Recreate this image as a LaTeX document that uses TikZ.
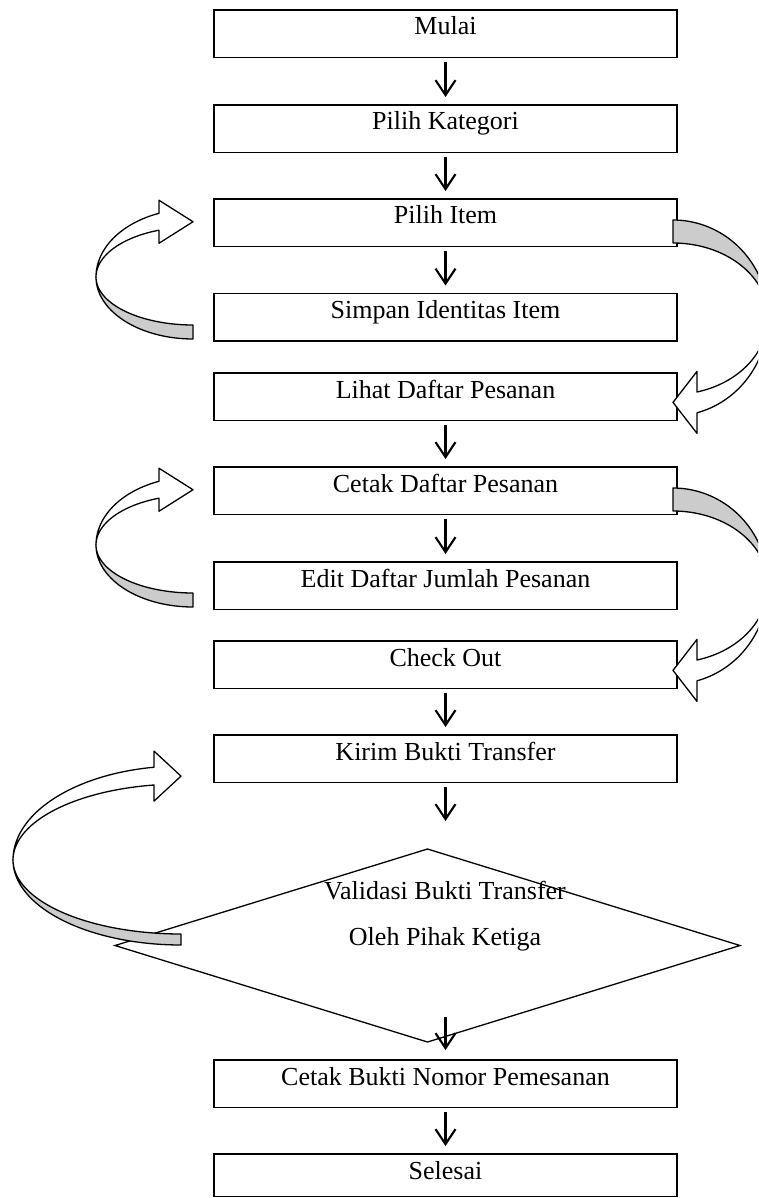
\documentclass[tikz,border=0pt]{standalone}
\usepackage{fontspec}
\setmainfont{Liberation Serif}
\usetikzlibrary{arrows.meta,calc,shapes.geometric}
\newcommand\flowfont{\fontsize{26}{30}\selectfont}
\definecolor{bandgray}{HTML}{CCCCCC}
% left-hand curved arrow: tail at bottom (grey), head at top pointing right
% #1 cx, #2 cy, #3 rx, #4 ry outer tail, #5 ry inner tail, #6 ry outer head, #7 ry inner head, #8 head back x, #9 head half height
\newcommand\curveArrL[9]{%
  \pgfmathsetmacro\hth{360-acos((#8-#1)/#3)}%
  \pgfmathsetmacro\hyo{#2+#6*sin(\hth)}%
  \pgfmathsetmacro\hyi{#2+#7*sin(\hth)}%
  \pgfmathsetmacro\hym{(\hyo+\hyi)/2}%
  \filldraw[cband,fill=bandgray] plot[domain=90:180,samples=40] ({#1+#3*cos(\x)},{#2+#4*sin(\x)})
     -- plot[domain=180:90,samples=40] ({#1+#3*cos(\x)},{#2+#5*sin(\x)}) -- cycle;
  \filldraw[cband,fill=white] plot[domain=180:\hth,samples=40] ({#1+#3*cos(\x)},{#2+#6*sin(\x)})
     -- (#8,\hym-#9) -- (#1,\hym) -- (#8,\hym+#9)
     -- plot[domain=\hth:180,samples=40] ({#1+#3*cos(\x)},{#2+#7*sin(\x)}) -- cycle;
}
% right-hand curved arrow: tail at top (grey), head at bottom pointing left
\newcommand\curveArrR[9]{%
  \pgfmathsetmacro\hth{acos((#8-#1)/#3)}%
  \pgfmathsetmacro\hyo{#2+#6*sin(\hth)}%
  \pgfmathsetmacro\hyi{#2+#7*sin(\hth)}%
  \pgfmathsetmacro\hym{(\hyo+\hyi)/2}%
  \filldraw[cband,fill=bandgray] plot[domain=270:360,samples=40] ({#1+#3*cos(\x)},{#2+#4*sin(\x)})
     -- plot[domain=360:270,samples=40] ({#1+#3*cos(\x)},{#2+#5*sin(\x)}) -- cycle;
  \filldraw[cband,fill=white] plot[domain=0:\hth,samples=40] ({#1+#3*cos(\x)},{#2+#6*sin(\x)})
     -- (#8,\hym+#9) -- (#1,\hym) -- (#8,\hym-#9)
     -- plot[domain=\hth:0,samples=40] ({#1+#3*cos(\x)},{#2+#7*sin(\x)}) -- cycle;
}
\begin{document}
\begin{tikzpicture}[x=1pt,y=-1pt,
  box/.style={draw, line width=1.8pt, minimum width=463pt, inner xsep=0pt, inner ysep=0pt,
              outer sep=0pt, text height=25pt, text depth=22.5pt, anchor=north, font=\flowfont},
  lbl/.style={inner sep=0pt, anchor=base, font=\flowfont},
  arr/.style={line width=2.1pt, -{Straight Barb[length=15pt,width=20pt]}, shorten <=4.5pt, shorten >=8pt},
  cband/.style={line width=1.3pt, line join=round},
]
\useasboundingbox (0,0) rectangle (758,1198);
\clip (0,0) rectangle (758,1198);

\node[box] (n1) at (445.5,10) {Mulai};
\node[box] (n2) at (445.5,105) {Pilih Kategori};
\node[box] (n3) at (445.5,199) {Pilih Item};
\node[box] (n4) at (445.5,293.5) {Simpan Identitas Item};
\node[box] (n5) at (445.5,373) {Lihat Daftar Pesanan};
\node[box] (n6) at (445.5,467) {Cetak Daftar Pesanan};
\node[box] (n7) at (445.5,562) {Edit Daftar Jumlah Pesanan};
\node[box] (n8) at (445.5,641) {Check Out};
\node[box] (n9) at (445.5,735) {Kirim Bukti Transfer};
\node[diamond, draw, line width=1.3pt, minimum width=625pt, minimum height=193pt,
      inner sep=0pt, outer sep=0pt] (dia) at (427.5,945.5) {};
\node[box] (n10) at (445.5,1060) {Cetak Bukti Nomor Pemesanan};
\node[box, text depth=17.5pt] (n11) at (445.5,1154) {Selesai};

\draw[arr] (n1.south) -- (n2.north);
\draw[arr] (n2.south) -- (n3.north);
\draw[arr] (n3.south) -- (n4.north);
\draw[arr] (n5.south) -- (n6.north);
\draw[arr] (n6.south) -- (n7.north);
\draw[arr] (n8.south) -- (n9.north);
\draw[arr, shorten >=28pt] (n9.south) -- (n9.south |- dia.north);
\coordinate (dout) at ($(n10.north)+(0,-43)$);
\draw[arr, shorten <=0pt, shorten >=10pt] (dout) -- (n10.north);
\draw[arr] (n10.south) -- (n11.north);

\curveArrL{193}{277}{97}{62}{48}{68}{50}{159}{21.5}
\curveArrL{193}{545}{97}{62}{48}{68}{50}{159}{21.5}
\curveArrL{181}{860}{168}{85}{74}{94}{76}{154}{25}
\curveArrR{673}{317}{95}{97}{74}{99}{77.5}{697}{31}
\curveArrR{673}{585}{95}{97}{74}{99}{77.5}{697}{31}

\node[lbl] (t1) at (445,899) {Validasi Bukti Transfer};
\node[lbl] (t2) at (445,945) {Oleh Pihak Ketiga};
\end{tikzpicture}
\end{document}
